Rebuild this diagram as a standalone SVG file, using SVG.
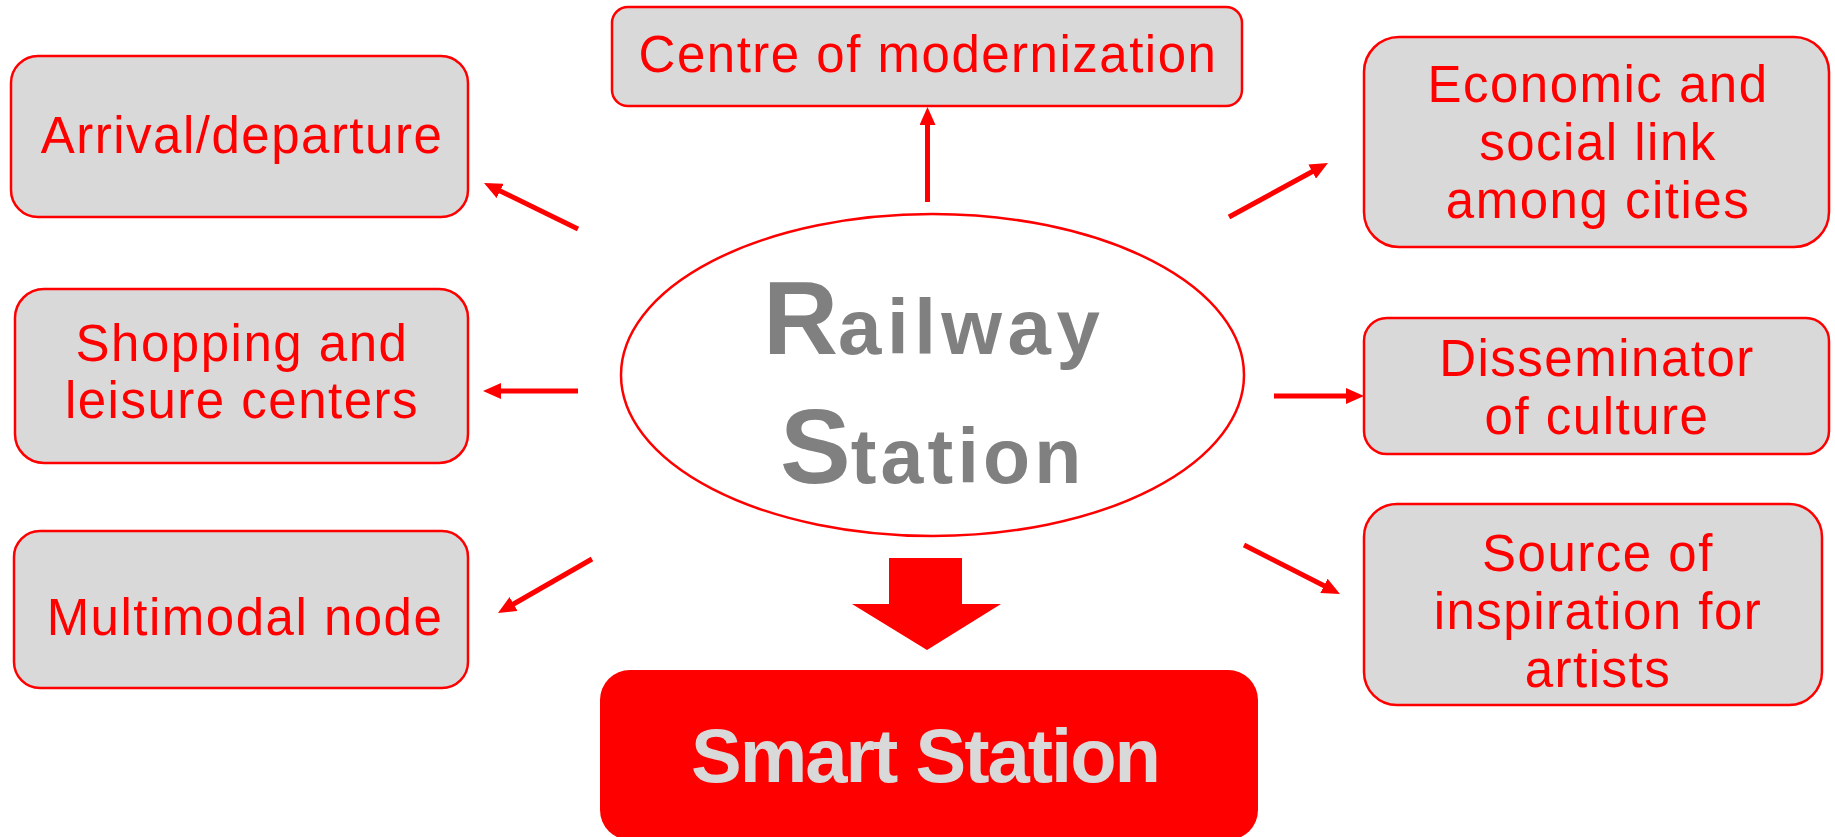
<svg xmlns="http://www.w3.org/2000/svg" width="1835" height="837" viewBox="0 0 1835 837">
<defs>
<style>
.box{fill:#d9d9d9;stroke:#ff0000;stroke-width:2.5}
.lbl{font-family:"Liberation Sans",Arial,sans-serif;font-size:51px;fill:#ff0000;text-anchor:middle;letter-spacing:1.5px}
.conn{stroke:#ff0000;stroke-width:5;fill:none;marker-end:url(#ah)}
.rs{font-family:"Liberation Sans",Arial,sans-serif;font-weight:bold;fill:#808080}
</style>
<marker id="ah" markerUnits="userSpaceOnUse" markerWidth="18" markerHeight="16" viewBox="0 0 18 16" refX="4" refY="8" orient="auto">
<path d="M0,0 L18,8 L0,16 Z" fill="#ff0000"/>
</marker>
</defs>
<rect width="1835" height="837" fill="#ffffff"/>

<g id="arrival">
<rect class="box" x="11" y="56" width="457" height="161" rx="27"/>
<text class="lbl" x="242" y="153">Arrival/departure</text>
</g>
<g id="centre">
<rect class="box" x="612" y="7" width="630" height="99" rx="16"/>
<text class="lbl" x="928" y="72">Centre of modernization</text>
</g>
<g id="economic">
<rect class="box" x="1364" y="37" width="465" height="210" rx="35"/>
<text class="lbl" x="1598" y="102">Economic and</text>
<text class="lbl" x="1598" y="160">social link</text>
<text class="lbl" x="1598" y="218">among cities</text>
</g>
<g id="shopping">
<rect class="box" x="15" y="289" width="453" height="174" rx="29"/>
<text class="lbl" x="242" y="361">Shopping and</text>
<text class="lbl" x="242" y="418">leisure centers</text>
</g>
<g id="disseminator">
<rect class="box" x="1364" y="318" width="465" height="136" rx="23"/>
<text class="lbl" x="1597" y="376">Disseminator</text>
<text class="lbl" x="1597" y="434">of culture</text>
</g>
<g id="multimodal">
<rect class="box" x="14" y="531" width="454" height="157" rx="26"/>
<text class="lbl" x="245" y="635">Multimodal node</text>
</g>
<g id="source">
<rect class="box" x="1364" y="504" width="458" height="201" rx="33"/>
<text class="lbl" x="1598" y="571">Source of</text>
<text class="lbl" x="1598" y="629">inspiration for</text>
<text class="lbl" x="1598" y="687">artists</text>
</g>

<g id="railway-station">
<ellipse cx="932.5" cy="375" rx="311.5" ry="161" fill="#ffffff" stroke="#ff0000" stroke-width="2.5"/>
<text class="rs" x="763" y="354"><tspan font-size="104">R</tspan><tspan font-size="78" letter-spacing="5.5">ailway</tspan></text>
<text class="rs" x="780" y="483"><tspan font-size="106">S</tspan><tspan font-size="77" letter-spacing="4.2">tation</tspan></text>
</g>

<g id="smart-station">
<rect x="600" y="670" width="658" height="170" rx="30" fill="#ff0000"/>
<text x="925" y="782" font-family="'Liberation Sans',Arial,sans-serif" font-weight="bold" font-size="76" fill="#d9d9d9" text-anchor="middle" letter-spacing="-2">Smart Station</text>
</g>

<g id="connectors">
<line class="conn" x1="578" y1="229" x2="496.6" y2="189.2"/>
<line class="conn" x1="927.5" y1="202" x2="927.5" y2="121"/>
<line class="conn" x1="1229" y1="217" x2="1315.7" y2="169.7"/>
<line class="conn" x1="578" y1="391" x2="497" y2="391"/>
<line class="conn" x1="1274" y1="396" x2="1350" y2="396"/>
<line class="conn" x1="592" y1="559" x2="510.1" y2="606"/>
<line class="conn" x1="1244" y1="545" x2="1327.5" y2="587.6"/>
<polygon points="889,558 962,558 962,604 1001,604 927,650 852,604 889,604" fill="#ff0000"/>
</g>
</svg>
